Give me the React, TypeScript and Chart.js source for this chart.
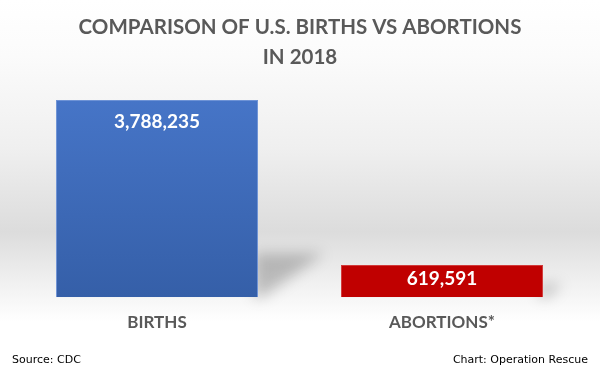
import React, { useEffect, useRef } from "react";
import { Chart, registerables } from "chart.js";

Chart.register(...registerables);

const titleLines = ["COMPARISON OF U.S. BIRTHS VS ABORTIONS", "IN 2018"];
const categories = ["BIRTHS", "ABORTIONS*"];
const values = [3788235, 619591];
const barColors = ["#4472c4", "#c00000"];
const sourceText = "Source: CDC";
const creditText = "Chart: Operation Rescue";

const FONT = "Lato, 'Open Sans', sans-serif";
const GRAY = "#595959";

const bgPlugin = {
  id: "bgPlugin",
  beforeDraw(chart: any) {
    const { ctx, width, height } = chart;
    ctx.save();
    const g = ctx.createLinearGradient(0, 0, 0, height);
    g.addColorStop(0, "#ffffff");
    g.addColorStop(0.15, "#fbfbfb");
    g.addColorStop(0.4, "#efefef");
    g.addColorStop(0.62, "#dcdcdc");
    g.addColorStop(0.76, "#f1f1f1");
    g.addColorStop(0.86, "#ffffff");
    g.addColorStop(1, "#ffffff");
    ctx.fillStyle = g;
    ctx.fillRect(0, 0, width, height);

    // title
    ctx.fillStyle = GRAY;
    ctx.textAlign = "center";
    ctx.textBaseline = "middle";
    ctx.font = `bold 20.5px ${FONT}`;
    ctx.fillText(titleLines[0], width / 2, 27);
    ctx.fillText(titleLines[1], width / 2, 57);

    // footer
    ctx.font = `11px 'DejaVu Sans', Verdana, sans-serif`;
    ctx.fillStyle = "#000000";
    ctx.textAlign = "left";
    ctx.fillText(sourceText, 12, 360);
    ctx.textAlign = "right";
    ctx.fillText(creditText, 588, 360);
    ctx.restore();
  },
  beforeDatasetsDraw(chart: any) {
    const { ctx } = chart;
    const meta = chart.getDatasetMeta(0);
    ctx.save();
    ctx.filter = "blur(7px)";
    ctx.fillStyle = "rgba(0,0,0,0.22)";
    meta.data.forEach((bar: any) => {
      const right = bar.x + bar.width / 2;
      const bottom = bar.base;
      const h = Math.min(44, (bottom - bar.y) * 0.4);
      const w = h * 1.5;
      ctx.beginPath();
      ctx.moveTo(right - 4, bottom);
      ctx.lineTo(right - 4, bottom - h);
      ctx.lineTo(right + w, bottom - h);
      ctx.lineTo(right + 4, bottom);
      ctx.closePath();
      ctx.fill();
    });
    ctx.restore();
  },
  afterDatasetsDraw(chart: any) {
    const { ctx } = chart;
    const meta = chart.getDatasetMeta(0);
    ctx.save();
    ctx.fillStyle = "#ffffff";
    ctx.textAlign = "center";
    ctx.textBaseline = "middle";
    ctx.font = `bold 19px ${FONT}`;
    meta.data.forEach((bar: any, i: number) => {
      const off = Math.min(22, (bar.base - bar.y) / 2 - 2);
      ctx.fillText(values[i].toLocaleString("en-US"), bar.x, bar.y + off);
    });
    ctx.restore();
  },
};

export default function App() {
  const ref = useRef<HTMLCanvasElement | null>(null);
  useEffect(() => {
    document.body.style.margin = "0";
    if (!ref.current) return;
    const chart = new Chart(ref.current, {
      type: "bar",
      data: {
        labels: categories,
        datasets: [
          {
            data: values,
            backgroundColor: (c: any) => {
              const i = c.dataIndex;
              if (i === 0 && c.chart.chartArea) {
                const { top, bottom } = c.chart.chartArea;
                const g = c.chart.ctx.createLinearGradient(0, top, 0, bottom);
                g.addColorStop(0, "#4776c9");
                g.addColorStop(1, "#355fa8");
                return g;
              }
              return barColors[i];
            },
            borderColor: ["#6e93d6", "#d23a3a"],
            borderWidth: 1,
            categoryPercentage: 1,
            barPercentage: 0.709,
          },
        ],
      },
      options: {
        responsive: false,
        animation: false,
        layout: { padding: { top: 89, left: 14.5, right: 15.5, bottom: 26.4 } },
        plugins: {
          legend: { display: false },
          tooltip: { enabled: false },
          title: { display: false },
        },
        scales: {
          x: {
            grid: { display: false, drawTicks: false },
            border: { display: false },
            ticks: {
              color: GRAY,
              font: { family: FONT, size: 17, weight: "bold" },
              padding: 15,
            },
          },
          y: {
            display: false,
            min: 0,
            max: 4000000,
          },
        },
      },
      plugins: [bgPlugin],
    } as any);
    return () => chart.destroy();
  }, []);
  return (
    <div style={{ position: "absolute", left: 0, top: 0, width: 600, height: 374 }}>
      <canvas ref={ref} width={600} height={374} />
    </div>
  );
}
